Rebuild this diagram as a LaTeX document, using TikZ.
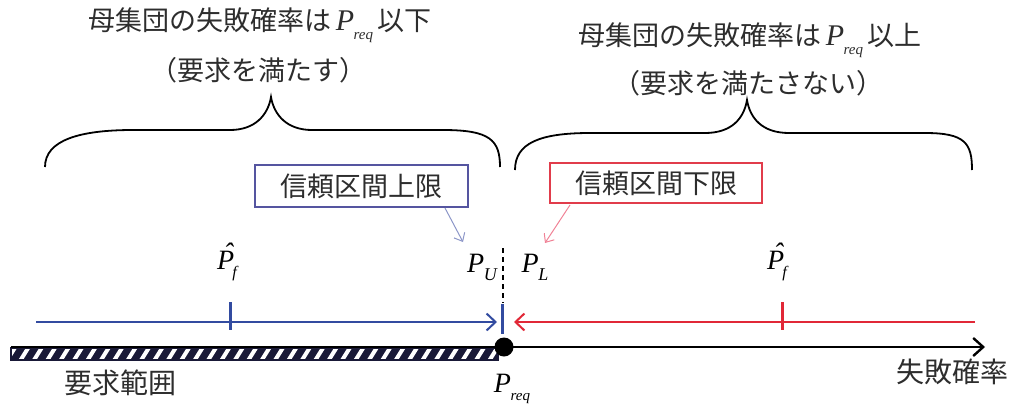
\documentclass[tikz,border=0pt]{standalone}
\usepackage{fontspec}
\usetikzlibrary{arrows.meta}
\newfontfamily\jp{Noto Sans CJK JP}
\newfontfamily\tms{Liberation Serif}
\newcommand\PP[1]{{\tms\itshape P\kern-0.5pt\raisebox{-0.3em}{\fontsize{15}{15}\selectfont #1}}}
\newcommand\PB[1]{{\tms\itshape P\kern-0.5pt\raisebox{-0.28em}{\fontsize{18}{18}\selectfont #1}}}
\newcommand\PH{{\tms\itshape\ooalign{P\cr\hidewidth\kern0.18em\raisebox{0.25em}{ˆ}\hidewidth\cr}\kern-2pt\raisebox{-0.3em}{\fontsize{16}{16}\selectfont f}}}
\definecolor{bl}{RGB}{50,75,160}
\definecolor{rd}{RGB}{225,40,55}
\definecolor{boxbl}{RGB}{85,85,160}
\definecolor{boxrd}{RGB}{225,60,75}
\definecolor{arbl}{RGB}{140,150,200}
\definecolor{arrd}{RGB}{240,130,150}
\definecolor{navy}{RGB}{25,25,55}
\definecolor{txt}{RGB}{45,45,45}
\begin{document}
\begin{tikzpicture}[x=1pt,y=-1pt]
\useasboundingbox (0,0) rectangle (1012,410);
\tikzset{
  toptext/.style={font=\jp\fontsize{27}{30}\selectfont, text=txt, inner sep=0pt},
  jptext/.style={font=\jp\fontsize{28}{30}\selectfont, text=txt, inner sep=0pt},
  mathlbl/.style={font=\fontsize{28}{30}\selectfont, text=black, inner sep=0pt},
  bluebox/.style={draw=boxbl, line width=1.8, minimum width=213, minimum height=42, inner sep=0pt, font=\jp\fontsize{27}{30}\selectfont, text=txt},
  redbox/.style={draw=boxrd, line width=1.8, minimum width=212, minimum height=40, inner sep=0pt, font=\jp\fontsize{27}{30}\selectfont, text=txt},
  brace/.style={draw=black, line width=1.8},
  barb/.style={-{Straight Barb[length=9, width=17, line width=2]}},
  bluearrow/.style={draw=bl, line width=2, barb},
  redarrow/.style={draw=rd, line width=2, barb},
  tickb/.style={draw=bl, line width=3},
  tickr/.style={draw=rd, line width=3},
  thinbl/.style={draw=arbl, line width=1, -{Straight Barb[length=7, width=12, line width=1]}},
  thinrd/.style={draw=arrd, line width=1, -{Straight Barb[length=7, width=12, line width=1]}},
}
% top texts
\node[toptext] (t1) at (260,25) {母集団の失敗確率は\,{\fontsize{30}{30}\selectfont\PP{req}}\,以下};
\node[toptext] (t2) at (258,70) {（要求を満たす）};
\node[toptext] (t3) at (750,40) {母集団の失敗確率は\,{\fontsize{30}{30}\selectfont\PP{req}}\,以上};
\node[toptext] (t4) at (748,83) {（要求を満たさない）};
% braces
\draw[brace] (45,167) .. controls (45,140) and (80,130) .. (133,130) -- (230,130)
  .. controls (255,130) and (268,115) .. (271,97)
  .. controls (274,115) and (287,130) .. (312,130) -- (443,130)
  .. controls (490,130) and (500,140) .. (500,167);
\draw[brace] (515,170) .. controls (515,143) and (540,133) .. (590,133) -- (705,133)
  .. controls (732,133) and (744,118) .. (747,100)
  .. controls (750,118) and (762,133) .. (789,133) -- (925,133)
  .. controls (965,133) and (972,143) .. (972,170);
% boxes
\node[bluebox] (ub) at (361.5,186) {信頼区間上限};
\node[redbox] (lb) at (656,183) {信頼区間下限};
\coordinate (ubs) at (445,208);
\coordinate (ube) at (463,242);
\coordinate (lbs) at (570,205);
\coordinate (lbe) at (545,243);
\draw[thinbl] (ubs) -- (ube);
\draw[thinrd] (lbs) -- (lbe);
% labels
\node[mathlbl] (pu) at (482,267) {\PB{U}};
\node[mathlbl] (pl) at (535,267) {\PB{L}};
\node[mathlbl] (pf1) at (227,266) {\PH};
\node[mathlbl] (pf2) at (777,266) {\PH};
\coordinate (dtop) at (503,248);
\coordinate (dbot) at (503,303);
\draw[black, line width=1.8, dash pattern=on 5pt off 4pt] (dtop) -- (dbot);
% hatched bar
\begin{scope}
  \clip (11,348) rectangle (498,360);
  \fill[navy] (11,348) rectangle (498,360);
  \foreach \i in {0,...,37} \draw[white, line width=4] ({6+13.4*\i},362) -- ({6+13.4*\i+10},346);
\end{scope}
\draw[navy, line width=1.5] (11,348) rectangle (498,360);
% axis
\coordinate (ax0) at (11,347);
\coordinate (ax1) at (985,347);
\draw[black, line width=2.4, -{Straight Barb[length=10, width=18, line width=2.4]}] (ax0) -- (ax1);
\node[circle, fill=black, minimum size=19, inner sep=0pt] (preq) at (504,347) {};
\node[mathlbl] (preqlbl) at (512,389) {\PP{req}};
\node[jptext] (req) at (120,383) {要求範囲};
\node[jptext] (fp) at (952,372) {失敗確率};
% interval arrows
\coordinate (b0) at (36,322);
\coordinate (b1) at (497,322);
\coordinate (r0) at (975,322);
\coordinate (r1) at (514,322);
\draw[bluearrow] (b0) -- (b1);
\draw[redarrow] (r0) -- (r1);
\coordinate (tb1a) at (230,302); \coordinate (tb1b) at (230,330);
\coordinate (tb2a) at (502,304); \coordinate (tb2b) at (502,334);
\coordinate (tr1a) at (782,302); \coordinate (tr1b) at (782,330);
\draw[tickb] (tb1a) -- (tb1b);
\draw[tickb] (tb2a) -- (tb2b);
\draw[tickr] (tr1a) -- (tr1b);
\end{tikzpicture}
\end{document}
